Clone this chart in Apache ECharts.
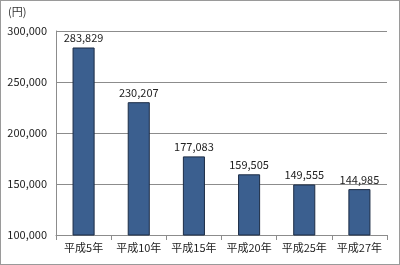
<!DOCTYPE html>
<html><head><meta charset="utf-8">
<script src="https://cdn.jsdelivr.net/npm/echarts@6/dist/echarts.min.js"></script>
<style>html,body{margin:0;padding:0;background:#fff}#c{width:400px;height:265px;box-sizing:border-box;border:1px solid #9a9a9a;}</style>
</head><body><div id="c"></div>
<script>
const categories = ['平成5年','平成10年','平成15年','平成20年','平成25年','平成27年'];
const values = [283829, 230207, 177083, 159505, 149555, 144985];
const unitLabel = '(円)';
const chart = echarts.init(document.getElementById('c'), null, {renderer:'canvas'});
const font = '"Noto Sans CJK JP", "DejaVu Sans", sans-serif';
chart.setOption({
  animation:false,
  grid:{left:55, right:12, top:30, bottom:29},
  graphic:[{type:'text', left:7, top:5, style:{text:unitLabel, font:'11px '+font, fill:'#333'}}],
  xAxis:{type:'category', data:categories,
    axisLine:{lineStyle:{color:'#8c8c8c'}},
    axisTick:{show:true, interval:0, alignWithLabel:false, length:5, lineStyle:{color:'#8c8c8c'}},
    axisLabel:{interval:0, hideOverlap:false, color:'#222', fontSize:11, fontFamily:font, margin:7}},
  yAxis:{type:'value', min:100000, max:300000, interval:50000,
    axisLine:{show:true, lineStyle:{color:'#8c8c8c'}},
    axisTick:{show:false},
    splitLine:{lineStyle:{color:'#8c8c8c'}},
    axisLabel:{color:'#222', fontSize:11, fontFamily:font, margin:9,
      formatter:v=>v.toLocaleString('en-US')}},
  series:[{type:'bar', data:values, barWidth:'40%',
    itemStyle:{color:'#3b5f8f', borderColor:'#1c2c45', borderWidth:1},
    label:{show:true, position:'top', color:'#222', fontSize:11, fontFamily:font, distance:4,
      formatter:p=>p.value.toLocaleString('en-US')}}]
});
</script></body></html>
